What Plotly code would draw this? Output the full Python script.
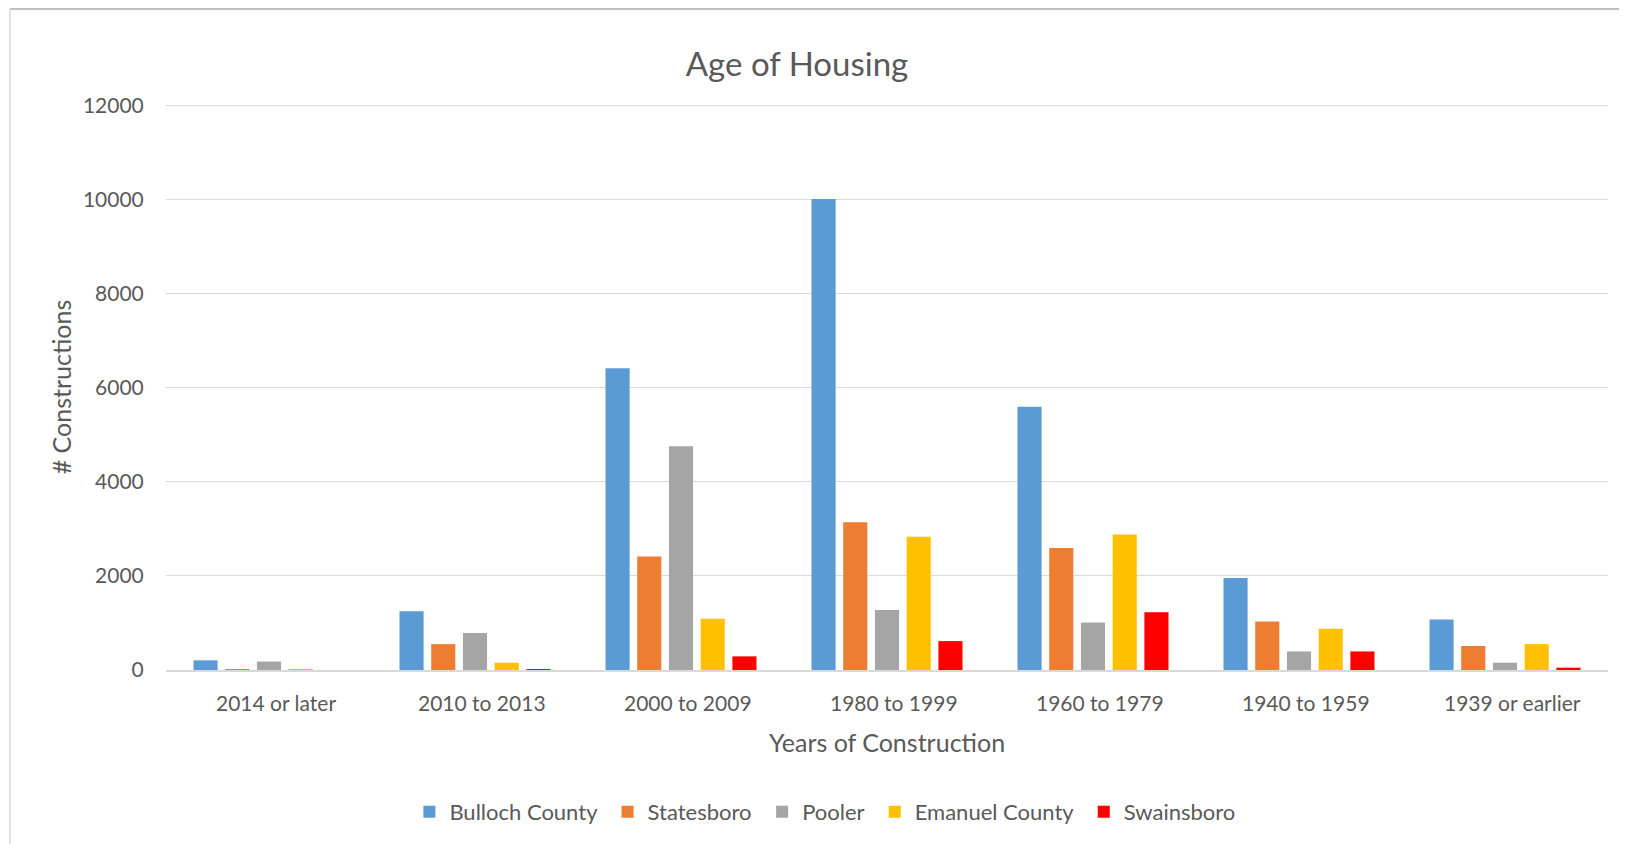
import plotly.graph_objects as go

categories = ["2014 or later", "2010 to 2013", "2000 to 2009", "1980 to 1999",
              "1960 to 1979", "1940 to 1959", "1939 or earlier"]
bulloch = [205, 1250, 6420, 10020, 5600, 1955, 1075]
statesboro = [5, 550, 2415, 3145, 2595, 1030, 510]
pooler = [180, 785, 4760, 1275, 1010, 395, 155]
emanuel = [15, 155, 1090, 2835, 2880, 880, 550]
swainsboro = [0, 15, 290, 615, 1230, 395, 50]

series_names = ["Bulloch County", "Statesboro", "Pooler", "Emanuel County", "Swainsboro"]
series_values = [bulloch, statesboro, pooler, emanuel, swainsboro]
colors = ["#5B9BD5", "#ED7D31", "#A5A5A5", "#FFC000", "#FF0000"]
y_ticks = [0, 2000, 4000, 6000, 8000, 10000, 12000]

FONT = "Lato, 'Open Sans', sans-serif"
TXT = "#595959"

W, H = 1627, 844
ML, MR, MT, MB = 158, 27, 96, 182
PW = W - ML - MR
PH = H - MT - MB

fig = go.Figure()
for name, vals, c in zip(series_names, series_values, colors):
    fig.add_trace(go.Bar(x=categories, y=vals, name=name + "\u00a0",
                         marker=dict(color=c, line=dict(width=0))))

fig.update_layout(
    width=W, height=H,
    margin=dict(l=ML, r=MR, t=MT, b=MB, autoexpand=False),
    paper_bgcolor="white", plot_bgcolor="white",
    barmode="group", bargap=0.23, bargroupgap=0.24,
    font=dict(family=FONT, color=TXT, size=21),
    title=dict(text="Age of Housing", x=789 / W, xanchor="center", y=1 - 56 / H, yanchor="middle",
               yref="container", xref="container", font=dict(size=33, color=TXT, family=FONT)),
    legend=dict(orientation="h", x=0.459, xanchor="center", y=(MT + PH - 804) / PH, yanchor="middle",
                font=dict(size=22, color=TXT), traceorder="normal", itemwidth=30),
    showlegend=True,
)
fig.update_xaxes(
    showgrid=False, showline=True, linecolor="#D9D9D9", linewidth=1.5,
    showticklabels=False,
    title=dict(text="Years of Construction", font=dict(size=25, color=TXT), standoff=64),
)
for cat in categories:
    fig.add_annotation(x=cat, xref="x", y=0, yref="paper", yshift=-32, xshift=7,
                       text=cat, showarrow=False, yanchor="middle",
                       font=dict(size=21, color=TXT, family=FONT))
fig.update_yaxes(
    range=[0, 12040], tickvals=y_ticks, ticktext=[str(v) for v in y_ticks],
    showgrid=True, gridcolor="#D9D9D9", gridwidth=1.2,
    zeroline=False, showline=False,
    ticks="outside", ticklen=17, tickcolor="rgba(0,0,0,0)",
    tickfont=dict(size=21, color=TXT),
    title=dict(text="# Constructions", font=dict(size=25, color=TXT), standoff=4),
)
top_y = (MT + PH - 1) / PH
left_x = (2 - ML) / PW
fig.add_shape(type="line", xref="paper", yref="paper", x0=left_x, x1=1 + MR / PW,
              y0=top_y, y1=top_y, line=dict(color="#BFBFBF", width=2))
fig.add_shape(type="line", xref="paper", yref="paper", x0=left_x, x1=left_x,
              y0=top_y, y1=-MB / PH, line=dict(color="#D9D9D9", width=1.5))
fig.write_html("out.html")
